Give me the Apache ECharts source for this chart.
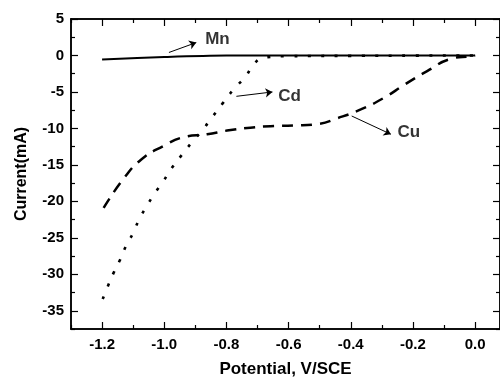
<!DOCTYPE html>
<html>
<head>
<meta charset="utf-8">
<script src="https://cdn.jsdelivr.net/npm/echarts@6/dist/echarts.min.js"></script>
<style>
  html, body { margin: 0; padding: 0; background: #fff; }
  #main { width: 500px; height: 383px; }
</style>
</head>
<body>
<div id="main"></div>
<script>
// values: [potential V, current mA]
const mnData = [[-1.2, -0.55], [-1.0, -0.22], [-0.8, -0.02], [-0.4, 0], [0, 0]];
const cdData = [[-1.198, -33.4], [-1.182, -31.7], [-1.163, -29.8], [-1.142, -28.0], [-1.124, -26.2],
  [-1.101, -24.4], [-1.082, -22.6], [-1.06, -20.9], [-1.032, -19.0], [-1.004, -17.3], [-0.977, -15.5],
  [-0.943, -13.6], [-0.911, -11.9], [-0.875, -10.1], [-0.843, -8.3], [-0.811, -6.5], [-0.776, -4.6],
  [-0.739, -2.9], [-0.71, -1.1], [-0.68, -0.3], [-0.6, -0.1], [-0.4, -0.05], [-0.2, -0.02], [0, 0]];
const cuData = [[-1.195, -20.9], [-1.131, -16.9], [-1.072, -14.2], [-1.002, -12.4], [-0.938, -11.2],
  [-0.862, -10.8], [-0.798, -10.3], [-0.723, -9.9], [-0.658, -9.7], [-0.583, -9.6], [-0.507, -9.4],
  [-0.443, -8.6], [-0.368, -7.4], [-0.293, -5.8], [-0.227, -4.0], [-0.153, -2.1], [-0.077, -0.45],
  [-0.013, -0.1], [0, 0]];

const xMajor = [-1.2, -1.0, -0.8, -0.6, -0.4, -0.2, 0.0];
const xMinor = [-1.3, -1.1, -0.9, -0.7, -0.5, -0.3, -0.1];
const yMajor = [-35, -30, -25, -20, -15, -10, -5, 0, 5];
const yMinor = [-37.5, -32.5, -27.5, -22.5, -17.5, -12.5, -7.5, -2.5, 2.5];

// annotation labels and arrows (data coordinates)
const noteNames = ['Mn', 'Cd', 'Cu'];
const notePos = [[-0.829, 2.2], [-0.597, -5.6], [-0.213, -10.5]];
const arrowFrom = [[-0.985, 0.41], [-0.768, -5.6], [-0.397, -8.3]];
const arrowTo = [[-0.897, 1.77], [-0.652, -5.0], [-0.271, -10.8]];

const font = 'Liberation Sans, Arial, sans-serif';
const xMin = -1.3, xMax = 0.08, yMin = -37.5, yMax = 5;

const chart = echarts.init(document.getElementById('main'), null, { renderer: 'canvas' });

function xAx(pos, ticks, len, opts) {
  return Object.assign({
    type: 'value', position: pos, min: xMin, max: xMax, interval: 0.1,
    axisLine: { show: true, onZero: false, lineStyle: { color: '#000', width: 1.5 } },
    axisTick: { show: true, inside: true, length: len, customValues: ticks, lineStyle: { color: '#000', width: 1.2 } },
    axisLabel: { show: false },
    splitLine: { show: false }
  }, opts || {});
}
function yAx(pos, ticks, len, opts) {
  return Object.assign({
    type: 'value', position: pos, min: yMin, max: yMax, interval: 2.5,
    axisLine: { show: true, onZero: false, lineStyle: { color: '#000', width: 1.5 } },
    axisTick: { show: true, inside: true, length: len, customValues: ticks, lineStyle: { color: '#000', width: 1.2 } },
    axisLabel: { show: false },
    splitLine: { show: false }
  }, opts || {});
}

const option = {
  animation: false,
  backgroundColor: '#fff',
  grid: { left: 71, right: 0, top: 19, bottom: 52 },
  xAxis: [
    xAx('bottom', xMajor, 7, {
      name: 'Potential, V/SCE', nameLocation: 'middle', nameGap: 32,
      nameTextStyle: { fontFamily: font, fontWeight: 'bold', fontSize: 17, color: '#000' },
      axisLabel: {
        show: true, customValues: xMajor, margin: 8,
        fontFamily: font, fontWeight: 'bold', fontSize: 15, color: '#000',
        formatter: v => v.toFixed(1)
      }
    }),
    xAx('bottom', xMinor, 4),
    xAx('top', xMajor, 7),
    xAx('top', xMinor, 4)
  ],
  yAxis: [
    yAx('left', yMajor, 7, {
      name: 'Current(mA)', nameLocation: 'middle', nameGap: 41,
      nameTextStyle: { fontFamily: font, fontWeight: 'bold', fontSize: 16, color: '#000' },
      axisLabel: {
        show: true, customValues: yMajor, margin: 7,
        fontFamily: font, fontWeight: 'bold', fontSize: 15, color: '#000'
      }
    }),
    yAx('left', yMinor, 4),
    yAx('right', yMajor, 7),
    yAx('right', yMinor, 4)
  ],
  series: [
    {
      name: 'Mn', type: 'line', data: mnData, smooth: 0.3, symbol: 'none',
      lineStyle: { color: '#000', width: 2 }
    },
    {
      name: 'Cd', type: 'line', data: cdData, smooth: true, symbol: 'none',
      lineStyle: { color: '#000', width: 2.6, type: [3, 10.5] }
    },
    {
      name: 'Cu', type: 'line', data: cuData, smooth: true, symbol: 'none',
      lineStyle: { color: '#000', width: 2.5, type: [11, 8] }
    },
    {
      name: 'notes', type: 'scatter', symbolSize: 0, silent: true,
      data: notePos.map((p, i) => ({ name: noteNames[i], value: p })),
      label: {
        show: true, position: 'inside', formatter: '{b}',
        fontFamily: font, fontWeight: 'bold', fontSize: 17, color: '#000'
      },
      markLine: {
        silent: true, symbol: ['none', 'arrow'], symbolSize: 7,
        label: { show: false },
        lineStyle: { color: '#000', width: 1, type: 'solid' },
        data: arrowFrom.map((p, i) => [{ coord: p }, { coord: arrowTo[i] }])
      }
    }
  ]
};
chart.setOption(option);
</script>
</body>
</html>
